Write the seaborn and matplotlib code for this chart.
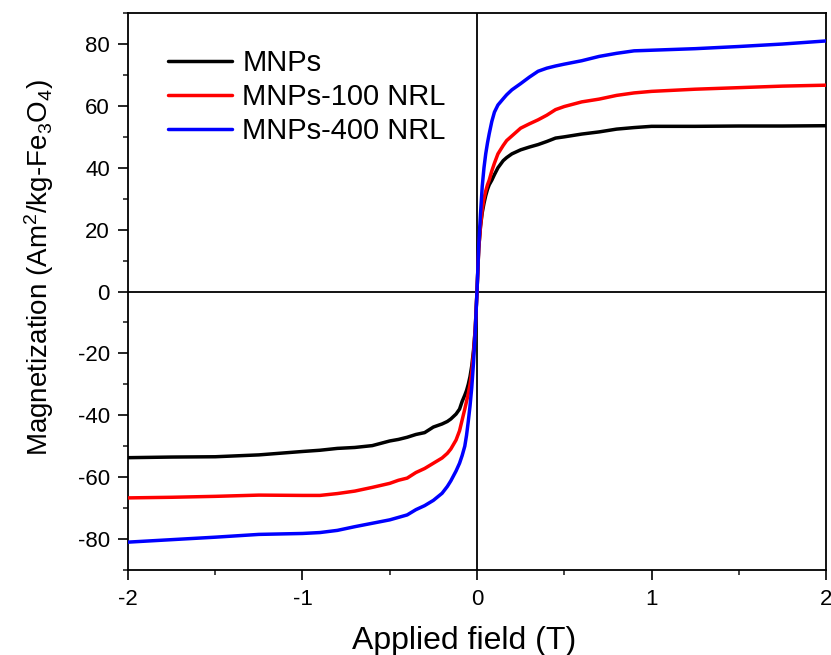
import matplotlib
matplotlib.use("Agg")
import matplotlib.pyplot as plt
import seaborn as sns
import pandas as pd
from matplotlib.ticker import MultipleLocator

field = [-2.0, -1.75, -1.5, -1.25, -1.0, -0.9, -0.8, -0.7, -0.6, -0.5, -0.45, -0.4, -0.35,
         -0.3, -0.25, -0.2, -0.17, -0.15, -0.12, -0.1, -0.085, -0.07, -0.06, -0.05, -0.04,
         -0.03, -0.02, -0.01,
         0.0,
         0.01, 0.02, 0.03, 0.04, 0.05, 0.06, 0.07, 0.085, 0.1, 0.12, 0.15, 0.17, 0.2, 0.25,
         0.3, 0.35, 0.4, 0.45, 0.5, 0.6, 0.7, 0.8, 0.9, 1.0, 1.25, 1.5, 1.75, 2.0]

mnps = [-53.7, -53.5, -53.4, -52.8, -51.7, -51.3, -50.7, -50.4, -49.8, -48.3, -47.8, -47.1, -46.2,
        -45.6, -43.8, -42.8, -42.0, -41.2, -39.6, -38.0, -35.5, -33.5, -32.0, -30.0, -27.5,
        -24.0, -19.0, -12.0,
        0.0,
        14.0, 21.0, 25.5, 28.5, 31.0, 33.0, 34.5, 36.0, 37.8, 40.0, 42.3, 43.3, 44.5, 45.8,
        46.7, 47.5, 48.5, 49.6, 50.0, 50.9, 51.6, 52.5, 53.0, 53.4, 53.4, 53.5, 53.5, 53.6]

mnps_100 = [-66.7, -66.5, -66.2, -65.8, -65.9, -65.9, -65.3, -64.5, -63.3, -62.0, -61.0, -60.3, -58.5,
            -57.2, -55.5, -53.8, -52.3, -50.9, -48.0, -45.0, -41.5, -38.0, -35.5, -33.0, -30.0,
            -26.0, -20.0, -12.0,
            0.0,
            14.0, 21.0, 26.5, 30.0, 32.5, 34.5, 36.0, 39.0, 41.5, 44.5, 47.2, 48.8, 50.3, 52.8,
            54.2, 55.5, 57.0, 58.8, 59.8, 61.3, 62.2, 63.4, 64.2, 64.7, 65.4, 65.9, 66.4, 66.7]

mnps_400 = [-81.0, -80.2, -79.4, -78.5, -78.2, -77.9, -77.2, -76.0, -74.9, -73.8, -73.0, -72.2, -70.5,
            -69.2, -67.5, -65.2, -63.0, -61.2, -58.0, -55.5, -53.0, -50.0, -46.5, -42.0, -37.0,
            -31.0, -23.0, -13.0,
            0.0,
            15.0, 25.0, 34.0, 40.0, 44.5, 48.0, 51.0, 55.0, 58.0, 60.3, 62.3, 63.6, 65.2, 67.2,
            69.3, 71.2, 72.2, 72.9, 73.5, 74.6, 76.0, 77.0, 77.8, 78.0, 78.5, 79.2, 80.0, 81.0]

labels = ["MNPs", "MNPs-100 NRL", "MNPs-400 NRL"]
colors = ["#000000", "#ff0000", "#0000ff"]

df = pd.concat([
    pd.DataFrame({"field": field, "mag": vals, "sample": lab})
    for vals, lab in zip([mnps, mnps_100, mnps_400], labels)
], ignore_index=True)

sns.set_style("ticks")
plt.rcParams["font.family"] = ["Liberation Sans", "DejaVu Sans"]
plt.rcParams["mathtext.fontset"] = "custom"
plt.rcParams["mathtext.rm"] = "Liberation Sans"
plt.rcParams["mathtext.it"] = "Liberation Sans:italic"
plt.rcParams["mathtext.default"] = "rm"
plt.rcParams["axes.unicode_minus"] = False
plt.rcParams["text.color"] = "black"
plt.rcParams["axes.labelcolor"] = "black"

fig = plt.figure(figsize=(8.31, 6.55), dpi=100)
ax = fig.add_axes([0.154, 0.1298, 0.840, 0.8502])

ax.axhline(0, color="black", lw=1.3, zorder=1)
ax.axvline(0, color="black", lw=1.3, zorder=1)

sns.lineplot(data=df, x="field", y="mag", hue="sample", palette=colors,
             hue_order=labels, sort=False, estimator=None, lw=2.5, ax=ax, zorder=3)

ax.set_xlim(-2, 2)
ax.set_ylim(-90, 90)
ax.xaxis.set_major_locator(MultipleLocator(1))
ax.xaxis.set_minor_locator(MultipleLocator(0.5))
ax.yaxis.set_major_locator(MultipleLocator(20))
ax.yaxis.set_minor_locator(MultipleLocator(10))
ax.set_yticks([-80, -60, -40, -20, 0, 20, 40, 60, 80])

for s in ax.spines.values():
    s.set_linewidth(1.3)
    s.set_color("black")
ax.tick_params(which="major", direction="out", length=7, width=1.2, labelsize=16,
               colors="black", pad=6)
ax.tick_params(which="minor", direction="out", length=3.5, width=1.2)
ax.tick_params(axis="x", which="major", pad=7)

ax.set_xlabel("Applied field (T)", fontsize=23, labelpad=11)
ax.xaxis.label.set_x(0.481)
ax.set_ylabel("Magnetization (Am$^2$/kg-Fe$_3$O$_4$)", fontsize=20, labelpad=16)
ax.yaxis.label.set_y(0.542)

leg = ax.legend(loc="upper left", bbox_to_anchor=(0.057, 0.935), frameon=False,
                fontsize=21, handlelength=2.2, handletextpad=0.35, labelspacing=0.2,
                borderpad=0, borderaxespad=0)
for h in leg.get_lines():
    h.set_linewidth(2.5)

fig.savefig("out.png", dpi=100)
